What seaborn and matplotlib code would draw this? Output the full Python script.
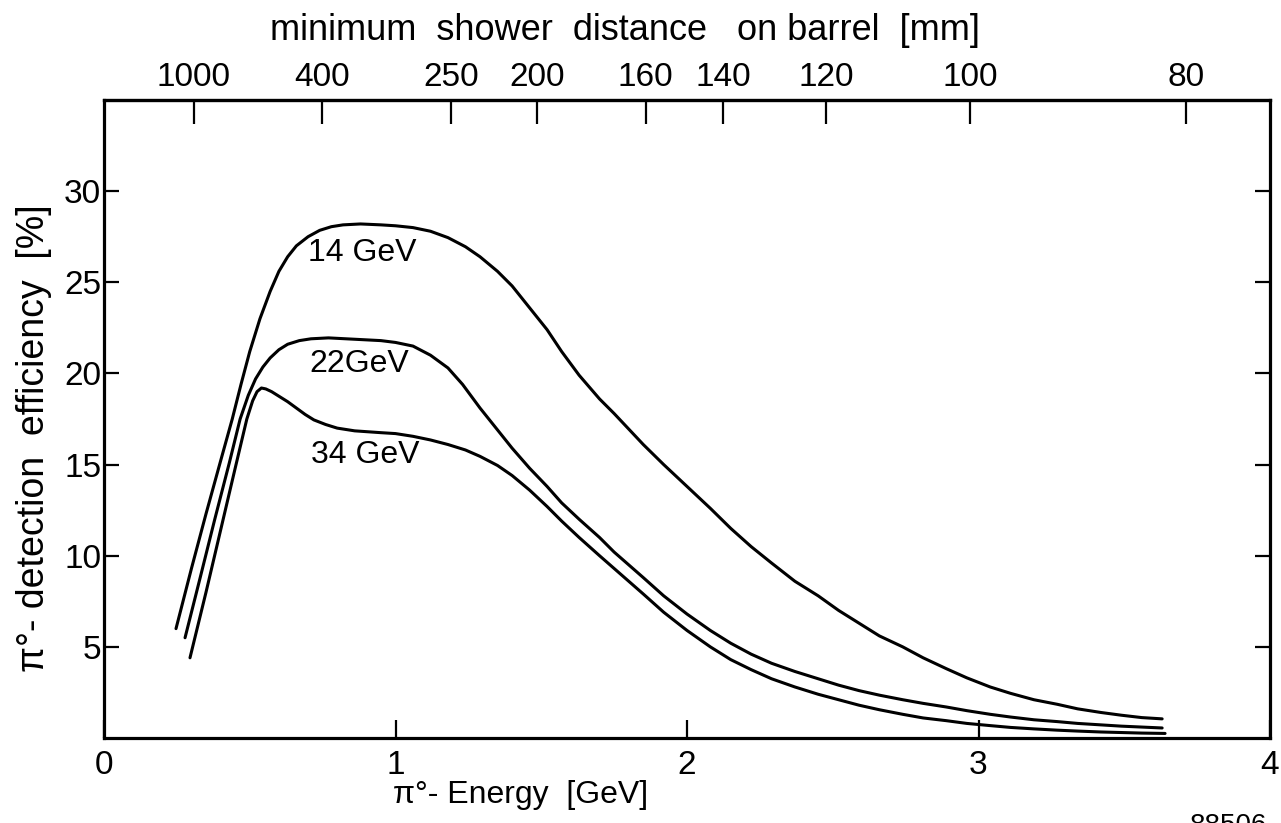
import numpy as np
import pandas as pd
import matplotlib
matplotlib.use("Agg")
import matplotlib.pyplot as plt
import seaborn as sns

# ---- data ----
e14 = [0.247, 0.30, 0.35, 0.40, 0.44, 0.47, 0.50, 0.535, 0.57, 0.60, 0.63, 0.66, 0.70,
       0.74, 0.78, 0.82, 0.88, 0.95, 1.00, 1.06, 1.12, 1.18, 1.24, 1.29, 1.35, 1.40,
       1.46, 1.52, 1.57, 1.63, 1.70, 1.75, 1.85, 1.92, 2.00, 2.08, 2.15, 2.22, 2.29,
       2.37, 2.45, 2.52, 2.59, 2.66, 2.74, 2.81, 2.89, 2.96, 3.04, 3.11, 3.19, 3.27,
       3.34, 3.42, 3.49, 3.56, 3.63]
v14 = [6.0, 9.3, 12.3, 15.2, 17.5, 19.4, 21.2, 23.0, 24.5, 25.6, 26.4, 27.0, 27.5,
       27.85, 28.05, 28.15, 28.2, 28.15, 28.1, 28.0, 27.8, 27.45, 26.95, 26.4, 25.6, 24.8,
       23.6, 22.4, 21.2, 19.9, 18.6, 17.8, 16.1, 15.0, 13.8, 12.6, 11.5, 10.5, 9.6,
       8.6, 7.8, 7.0, 6.3, 5.6, 5.0, 4.4, 3.8, 3.3, 2.8, 2.45, 2.1, 1.85,
       1.6, 1.4, 1.25, 1.12, 1.05]

e22 = [0.278, 0.33, 0.38, 0.43, 0.467, 0.495, 0.52, 0.545, 0.57, 0.60, 0.63, 0.67, 0.71,
       0.77, 0.83, 0.89, 0.95, 1.00, 1.06, 1.12, 1.18, 1.23, 1.29, 1.35, 1.40, 1.46,
       1.52, 1.57, 1.63, 1.70, 1.75, 1.80, 1.85, 1.92, 2.00, 2.08, 2.15, 2.22, 2.29,
       2.37, 2.45, 2.52, 2.59, 2.66, 2.74, 2.81, 2.89, 2.96, 3.04, 3.11, 3.19, 3.27,
       3.34, 3.42, 3.49, 3.56, 3.63]
v22 = [5.5, 8.8, 12.0, 15.1, 17.5, 18.8, 19.7, 20.35, 20.85, 21.3, 21.6, 21.8, 21.9,
       21.95, 21.9, 21.85, 21.8, 21.7, 21.5, 21.0, 20.3, 19.4, 18.1, 16.9, 15.9, 14.8,
       13.8, 12.9, 12.0, 11.0, 10.2, 9.5, 8.8, 7.8, 6.8, 5.9, 5.2, 4.6, 4.1,
       3.65, 3.25, 2.9, 2.6, 2.35, 2.1, 1.9, 1.7, 1.5, 1.3, 1.15, 1.0, 0.9,
       0.8, 0.72, 0.65, 0.6, 0.55]

e34 = [0.295, 0.35, 0.40, 0.45, 0.49, 0.51, 0.525, 0.54, 0.555, 0.575, 0.60, 0.63, 0.66,
       0.69, 0.72, 0.76, 0.80, 0.86, 0.95, 1.00, 1.06, 1.12, 1.18, 1.24, 1.29, 1.35,
       1.40, 1.46, 1.52, 1.57, 1.63, 1.70, 1.75, 1.80, 1.85, 1.92, 2.00, 2.08, 2.15,
       2.22, 2.29, 2.37, 2.45, 2.52, 2.59, 2.66, 2.74, 2.81, 2.89, 2.96, 3.04, 3.11,
       3.19, 3.27, 3.34, 3.42, 3.49, 3.56, 3.64]
v34 = [4.4, 8.0, 11.4, 14.8, 17.5, 18.5, 19.0, 19.2, 19.15, 19.0, 18.75, 18.45, 18.1,
       17.75, 17.45, 17.2, 17.0, 16.85, 16.75, 16.7, 16.55, 16.35, 16.1, 15.8, 15.45, 14.95,
       14.4, 13.6, 12.7, 11.9, 11.0, 10.0, 9.3, 8.6, 7.9, 6.9, 5.9, 5.0, 4.3,
       3.75, 3.25, 2.8, 2.4, 2.1, 1.8, 1.55, 1.3, 1.1, 0.95, 0.8, 0.68, 0.58,
       0.5, 0.43, 0.38, 0.33, 0.3, 0.27, 0.25]

series_names = ["14 GeV", "22GeV", "34 GeV"]
label_x = [0.885, 0.875, 0.895]
label_y = [26.6, 20.5, 15.5]

x_ticks = [0, 1, 2, 3, 4]
y_ticks = [5, 10, 15, 20, 25, 30]
top_ticks = [1000, 400, 250, 200, 160, 140, 120, 100, 80]

df = pd.concat([
    pd.DataFrame({"E": e14, "eff": v14, "s": series_names[0]}),
    pd.DataFrame({"E": e22, "eff": v22, "s": series_names[1]}),
    pd.DataFrame({"E": e34, "eff": v34, "s": series_names[2]}),
])

sns.set_style("ticks")
plt.rcParams["font.family"] = ["Liberation Sans", "DejaVu Sans"]

W, H = 1281, 823
fig = plt.figure(figsize=(W / 100, H / 100), dpi=100)
ax = fig.add_axes([104 / W, 1 - 738 / H, 1166 / W, 638 / H])

sns.lineplot(data=df, x="E", y="eff", hue="s", palette=["black"] * 3,
             estimator=None, sort=False, linewidth=2.2, legend=False, ax=ax)

for name, lx, ly in zip(series_names, label_x, label_y):
    ax.text(lx, ly, name, ha="center", va="center", fontsize=23, color="black")

ax.set_xlim(0, 4)
ax.set_ylim(0, 35)
ax.set_xticks(x_ticks)
ax.set_xticklabels([str(t) for t in x_ticks])
ax.set_yticks(y_ticks)
ax.set_yticklabels([str(t) for t in y_ticks])
for sp in ax.spines.values():
    sp.set_linewidth(2.3)
    sp.set_visible(True)
    sp.set_color("black")
ax.tick_params(axis="x", direction="in", length=13, width=1.6, labelsize=24,
               pad=9, top=False, colors="black")
ax.tick_params(axis="y", direction="in", length=11, width=1.6, labelsize=24,
               pad=2, right=True, labelright=False, colors="black")

ax.set_xlabel("π°- Energy  [GeV]", fontsize=23, color="black")
ax.xaxis.set_label_coords(0.357, -0.066)
ax.set_ylabel("π°- detection  efficiency  [%]", fontsize=27, color="black")
ax.yaxis.set_label_coords(-0.045, 0.47)

# top axis: minimum shower distance on barrel (mm) for pi0 -> 2 gamma, R = 1100 mm
M_PI0 = 0.135
R_BARREL = 1100.0
K_EXT = 1.0e4  # linear extension below threshold so the mapping stays invertible


def e_to_d(e):
    e = np.asarray(e, dtype=float)
    ee = np.maximum(e, M_PI0)
    d_phys = 2 * R_BARREL * np.arcsin(np.clip(M_PI0 / ee, 0, 1))
    d_ext = np.pi * R_BARREL + (M_PI0 - e) * K_EXT
    return np.where(e >= M_PI0, d_phys, d_ext)


def d_to_e(d):
    d = np.asarray(d, dtype=float)
    dd = np.clip(d, 1e-6, np.pi * R_BARREL)
    e_phys = M_PI0 / np.sin(dd / (2 * R_BARREL))
    e_ext = M_PI0 - (d - np.pi * R_BARREL) / K_EXT
    return np.where(d <= np.pi * R_BARREL, e_phys, e_ext)


sec = ax.secondary_xaxis("top", functions=(e_to_d, d_to_e))
sec.set_xticks(top_ticks)
sec.set_xticklabels([str(t) for t in top_ticks])
sec.tick_params(direction="in", length=17, width=1.6, labelsize=24, pad=5,
                colors="black")
sec.spines["top"].set_linewidth(2.3)

fig.text(625 / W, 1 - 30 / H, "minimum  shower  distance   on barrel  [mm]",
         fontsize=26, ha="center", va="center", color="black")

fig.text(1190 / W, -0.004, "88506", fontsize=20, ha="left", va="center",
         color="black")

fig.savefig("out.png", dpi=100, facecolor="white")
